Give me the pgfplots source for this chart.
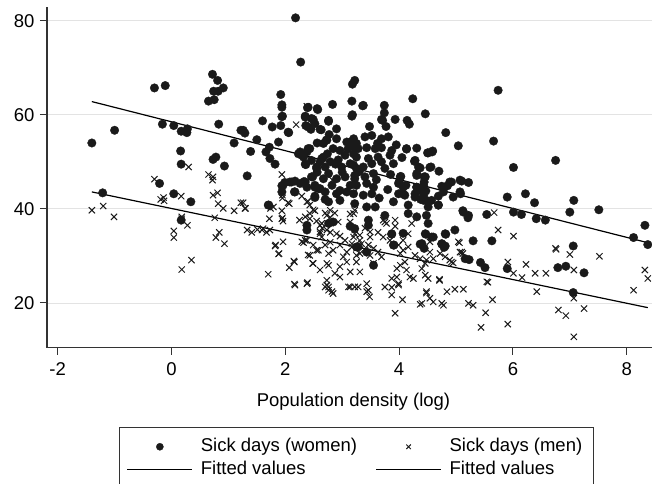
\documentclass[border=0pt]{standalone}
\usepackage{fontspec}
\setmainfont{Liberation Sans}
\usepackage{pgfplots}
\usepackage{pgfplotstable}
\pgfplotsset{compat=1.18}
\definecolor{markc}{HTML}{1A1A1A}
\definecolor{gridc}{HTML}{E3E3E3}
\definecolor{axisc}{HTML}{333333}

\pgfplotstableread{
x y
-1.40 54.0
-1.21 43.4
-1.00 56.7
-0.30 65.7
-0.11 66.2
-0.16 58.0
0.04 57.7
0.17 56.5
0.27 56.2
0.28 57.0
0.16 52.3
0.17 49.5
-0.21 45.4
0.04 43.2
0.34 41.5
0.17 37.6
0.65 62.9
0.72 68.6
0.75 63.2
0.81 67.3
0.74 65.0
0.82 65.0
0.91 65.7
0.83 58.0
0.73 50.5
0.78 51.0
0.93 49.1
1.33 47.0
1.10 54.0
1.22 56.7
1.29 56.1
1.39 52.2
1.50 54.7
1.60 58.7
1.66 52.1
1.72 53.1
1.73 50.7
1.82 49.5
1.77 57.4
1.88 54.2
1.92 64.3
1.94 62.1
1.94 61.6
1.94 59.6
1.92 57.7
2.06 56.2
2.18 80.6
2.27 71.2
1.71 40.8
1.94 44.9
1.99 45.6
2.08 45.7
2.17 45.9
2.17 43.6
2.33 45.8
2.38 36.5
2.38 35.5
2.23 51.7
2.29 51.4
2.38 52.1
2.43 52.8
2.35 59.7
2.39 61.5
2.57 61.1
2.49 59.0
2.36 57.7
2.45 56.9
2.61 56.9
2.36 49.4
2.48 46.8
2.52 44.6
2.61 44.3
2.52 42.4
2.70 42.0
2.55 48.6
2.61 50.0
2.67 51.0
2.73 54.6
2.67 53.9
2.76 58.8
3.22 67.3
3.18 66.5
2.83 62.2
3.17 62.9
3.36 61.9
3.17 59.7
3.74 62.0
3.74 60.4
3.69 59.0
3.77 57.5
3.93 59.0
4.24 63.4
4.14 58.8
4.18 58.0
4.46 60.2
3.48 57.5
5.74 65.2
4.82 56.2
5.04 53.4
5.66 54.4
6.01 48.8
6.75 50.3
4.13 52.7
4.31 52.9
4.50 51.9
4.58 52.1
4.27 50.1
4.37 48.7
4.56 48.9
4.70 48.0
4.31 47.5
4.44 46.8
4.44 45.7
4.03 46.9
4.00 45.7
4.12 45.0
4.07 43.2
4.31 44.6
4.40 43.8
4.47 43.8
4.28 42.5
4.38 42.0
4.48 41.8
4.57 41.8
4.69 40.8
4.77 44.6
4.85 44.9
4.92 45.7
5.10 45.9
5.22 45.6
5.08 43.2
5.90 42.5
6.22 43.2
6.38 41.3
7.07 41.8
7.51 39.8
7.00 39.3
6.01 39.3
6.15 38.8
6.41 37.9
6.57 37.6
5.54 38.8
5.12 39.6
5.21 38.1
8.12 33.9
8.32 36.5
8.37 32.4
4.98 35.5
4.82 34.6
5.30 33.2
5.63 33.2
7.06 32.1
5.23 29.2
5.43 28.6
5.51 27.5
5.90 27.3
6.79 27.5
6.93 27.8
7.25 26.4
7.06 22.2
3.87 34.6
4.07 34.8
4.47 34.6
4.60 34.0
3.91 32.3
4.37 32.5
4.44 31.6
4.75 32.5
4.79 31.8
3.28 31.9
3.43 30.8
3.55 28.0
1.95 59.7
2.05 56.3
2.40 61.6
2.56 61.3
3.18 60.0
2.35 59.5
2.46 59.2
2.40 57.4
2.52 58.1
2.63 56.8
2.76 58.6
2.77 55.8
2.90 57.0
2.90 54.9
2.72 54.6
2.56 54.0
3.08 54.2
3.20 53.3
1.26 56.7
2.26 52.1
2.40 52.8
2.32 51.0
2.46 50.3
2.35 49.5
2.55 48.9
2.64 50.7
2.74 51.7
2.84 52.8
2.96 52.4
3.14 54.2
2.70 48.9
2.79 50.0
2.93 50.4
3.05 51.4
3.20 51.7
2.99 48.9
3.14 49.6
3.25 48.6
2.46 46.8
2.56 47.8
2.38 44.6
2.52 45.0
2.58 44.3
2.67 46.4
2.76 47.5
2.82 45.0
2.90 46.4
2.96 43.9
3.05 46.8
3.14 45.0
3.22 46.4
1.96 45.0
2.11 45.7
2.26 45.4
1.94 43.6
2.16 43.6
2.35 45.7
3.37 62.0
3.71 58.8
3.20 54.9
3.25 53.9
3.40 55.3
3.52 55.6
3.69 54.9
3.81 55.3
3.28 52.8
3.43 53.0
3.58 52.8
3.69 53.0
3.87 52.4
4.13 52.8
4.51 51.9
4.59 52.3
3.25 51.0
3.46 50.7
3.63 51.0
3.84 51.4
4.28 50.3
3.20 49.3
3.37 48.9
3.52 49.6
3.69 50.0
3.75 48.6
4.34 48.9
4.54 48.8
3.22 47.1
3.40 46.8
3.55 47.5
4.31 47.1
4.46 46.8
3.25 45.0
3.43 45.4
3.55 44.6
4.02 46.8
3.99 45.4
4.07 44.6
4.31 44.6
4.43 45.0
4.75 44.8
4.89 45.7
5.07 46.1
3.99 43.2
4.10 42.9
4.28 43.2
4.43 42.9
3.20 43.2
3.37 42.9
3.52 43.2
5.07 43.6
4.78 43.6
2.52 42.7
2.70 43.6
2.90 43.2
3.08 43.6
2.76 41.5
2.96 41.8
3.22 41.1
1.70 40.8
2.76 36.9
2.84 37.2
3.14 36.3
3.25 31.9
3.43 40.4
3.58 40.4
3.90 41.5
4.16 40.8
4.16 39.0
4.31 38.3
4.43 41.8
4.51 40.4
4.69 40.8
4.48 38.6
4.51 36.9
3.75 38.6
3.46 37.6
3.46 36.5
3.87 34.7
4.46 34.7
4.57 34.0
4.81 34.7
5.13 39.3
5.22 38.6
4.40 32.6
3.90 32.3
4.75 32.6
4.81 32.1
5.16 29.4
3.22 35.8
4.95 42.5
4.69 42.7
3.00 47.8
3.30 47.9
3.60 46.2
3.85 47.3
3.80 44.1
3.65 42.3
3.90 49.6
4.05 50.9
3.10 52.7
2.88 49.5
3.62 53.9
3.95 53.6
}\women

\pgfplotstableread{
x y
-1.40 39.7
-1.20 40.6
-1.01 38.3
-0.30 46.3
-0.19 42.0
-0.14 42.4
-0.13 41.7
0.30 48.9
0.17 42.7
0.04 35.3
0.04 33.9
0.28 36.5
0.18 37.9
0.65 47.3
0.73 46.8
0.72 46.1
0.73 42.9
0.81 43.4
0.82 41.1
0.76 38.1
0.91 40.1
0.78 33.9
0.84 35.0
0.93 32.6
1.10 39.6
1.22 41.3
1.29 40.1
1.33 35.5
1.41 35.0
1.51 35.6
1.61 35.8
1.67 35.0
1.73 35.5
1.72 37.9
1.74 40.1
1.94 47.3
1.95 42.3
2.05 41.3
1.94 39.6
1.94 37.9
1.96 37.4
1.82 32.1
1.96 33.0
2.19 57.9
2.29 42.7
2.40 41.6
2.25 37.6
2.52 39.6
2.43 37.9
2.55 37.4
2.61 36.5
2.32 32.8
2.38 33.3
2.49 32.3
2.61 34.7
2.73 35.5
2.38 61.8
0.18 27.1
0.35 29.1
1.70 26.1
1.88 30.4
2.07 27.5
2.16 28.7
2.16 24.0
2.39 24.3
2.40 30.2
2.48 28.4
2.58 31.2
2.61 27.0
2.70 23.4
2.76 22.7
2.73 28.4
0.18 38.3
1.26 41.3
1.30 40.1
1.59 35.5
1.79 40.4
1.95 42.9
2.07 41.1
1.95 38.1
1.83 32.3
1.89 30.5
2.15 28.9
2.17 23.8
2.38 24.1
2.35 38.3
2.43 39.0
2.64 36.9
2.49 39.8
2.73 38.6
2.79 39.7
2.29 33.0
2.35 33.3
2.43 30.1
2.49 28.4
2.55 31.2
2.61 35.1
2.64 34.0
2.70 32.3
2.76 30.5
2.84 31.2
2.76 28.0
2.87 26.3
2.96 25.5
2.73 24.8
2.76 23.4
2.82 22.4
2.84 22.0
2.90 34.7
2.96 32.3
3.02 29.8
3.08 28.7
2.96 27.7
3.14 26.6
3.08 30.8
3.17 31.9
3.20 34.0
3.25 30.1
3.11 23.4
3.22 23.4
3.28 23.4
1.94 43.6
2.38 41.5
2.43 40.8
3.20 39.0
3.22 34.7
3.17 32.6
3.25 31.6
3.34 32.6
3.31 30.5
3.40 31.2
3.46 32.3
3.49 30.1
3.55 31.6
3.55 28.4
3.63 30.8
3.69 29.8
3.25 28.7
3.31 26.6
3.43 24.1
3.46 22.7
3.48 21.3
3.75 23.4
3.87 25.2
3.99 23.8
3.87 21.7
4.06 20.7
3.93 17.8
3.96 27.3
3.96 25.5
4.02 28.0
4.10 28.7
4.13 27.0
4.19 25.5
4.25 25.2
4.02 30.5
4.07 31.2
4.16 31.9
4.28 30.1
4.37 29.4
4.46 28.4
4.40 27.3
4.46 25.9
4.51 25.2
4.54 30.8
4.60 29.4
4.71 25.0
4.48 22.4
4.54 21.0
4.40 19.9
4.60 20.2
4.75 19.9
4.84 22.4
4.98 22.9
5.13 22.9
5.22 19.9
5.04 33.0
5.07 30.8
4.72 30.5
4.81 29.8
4.92 28.7
3.22 39.7
3.14 38.9
3.72 37.6
3.78 36.9
3.93 37.6
3.72 34.0
3.49 35.1
3.31 34.4
4.22 36.9
4.16 34.7
4.07 33.3
4.54 33.0
4.48 29.1
4.37 19.7
4.48 22.1
4.78 19.5
5.30 19.5
5.44 14.8
5.52 17.9
5.64 20.7
5.56 24.4
5.91 15.5
5.91 28.7
6.01 26.3
6.16 25.4
6.23 28.2
6.39 26.3
6.42 22.4
6.58 26.3
6.76 31.4
7.00 30.3
7.07 27.0
6.80 18.5
6.93 17.3
7.07 21.0
7.07 12.8
7.25 18.8
7.52 29.9
8.12 22.7
8.32 27.0
8.37 25.2
5.10 30.8
4.89 29.1
4.95 28.5
4.71 24.8
5.74 35.5
6.01 34.2
3.87 23.3
3.99 24.1
3.43 22.4
3.14 23.4
2.73 23.8
5.67 39.2
5.06 32.8
5.12 30.5
2.83 46.1
3.20 43.4
2.70 39.1
2.79 38.2
2.87 39.1
2.93 37.2
2.65 35.9
2.79 35.0
2.96 34.2
3.05 33.3
2.79 32.9
3.14 37.2
3.22 35.5
3.31 33.3
3.40 35.9
3.49 34.0
3.63 35.0
3.75 37.2
3.84 33.3
3.93 36.3
3.99 32.3
5.54 24.5
6.75 31.6
}\men

\begin{document}
\begin{tikzpicture}
\begin{axis}[
  at={(0pt,0pt)}, anchor=south west,
  scale only axis, width=613pt, height=341pt,
  xmin=-2.188, xmax=8.585, ymin=10.48, ymax=82.97,
  axis lines*=left,
  axis line style={axisc, line width=1.1pt},
  xtick={-2,0,2,4,6,8}, xticklabels={-2,0,2,4,6,8},
  ytick={20,40,60,80}, yticklabels={20,40,60,80},
  tick align=outside, major tick length=7pt,
  tick style={axisc, line width=1pt},
  ymajorgrids, grid style={gridc, line width=0.8pt},
  tick label style={font=\fontsize{18.5}{21}\selectfont},
  xticklabel style={yshift=-4.5pt},
  yticklabel style={xshift=-2pt},
  xlabel={Population density (log)},
  every axis x label/.style={at={(axis description cs:0.5,0)}, anchor=base, yshift=-59pt, font=\fontsize{18.5}{21}\selectfont},
  legend columns=2,
  legend cell align=left,
  legend style={at={(axis description cs:0,0)}, anchor=north west, xshift=72.3pt, yshift=-79.6pt,
    draw=axisc, line width=0.9pt, inner xsep=7pt, inner ysep=7.5pt,
    font=\fontsize{18.5}{21}\selectfont,
    nodes={inner xsep=4.4pt, inner ysep=3pt, text height=13pt, text depth=4pt},
    /tikz/every odd column/.append style={column sep=3.5pt},
    /tikz/every even column/.append style={column sep=14pt}},
  legend image code/.code={\draw[mark repeat=2,mark phase=2,#1] plot coordinates {(0pt,0pt) (32.5pt,0pt) (65pt,0pt)};},
]
\addplot[forget plot, only marks, mark=*, mark size=4.3pt, mark options={fill=markc, draw=markc, line width=0.3pt}] table {\women};
\addplot[forget plot, only marks, mark=x, mark size=4.4pt, mark options={draw=markc, line width=1pt}] table {\men};
\addplot[forget plot, black, line width=1.2pt] coordinates {(-1.40,62.8) (8.37,32.8)};
\addplot[forget plot, black, line width=1.2pt] coordinates {(-1.40,43.6) (8.37,19.0)};
\addlegendimage{only marks, mark=*, mark size=3.6pt, mark options={fill=markc, draw=markc, line width=0.3pt}}
\addlegendimage{only marks, mark=x, mark size=3.2pt, mark options={draw=markc, line width=0.9pt}}
\addlegendimage{black, line width=1.2pt}
\addlegendimage{black, line width=1.2pt}
\legend{Sick days (women), Sick days (men), Fitted values, Fitted values}
\end{axis}
\pgfresetboundingbox
\path[use as bounding box] (-47pt,-135.3pt) rectangle (605pt,347.7pt);
\end{tikzpicture}
\end{document}
